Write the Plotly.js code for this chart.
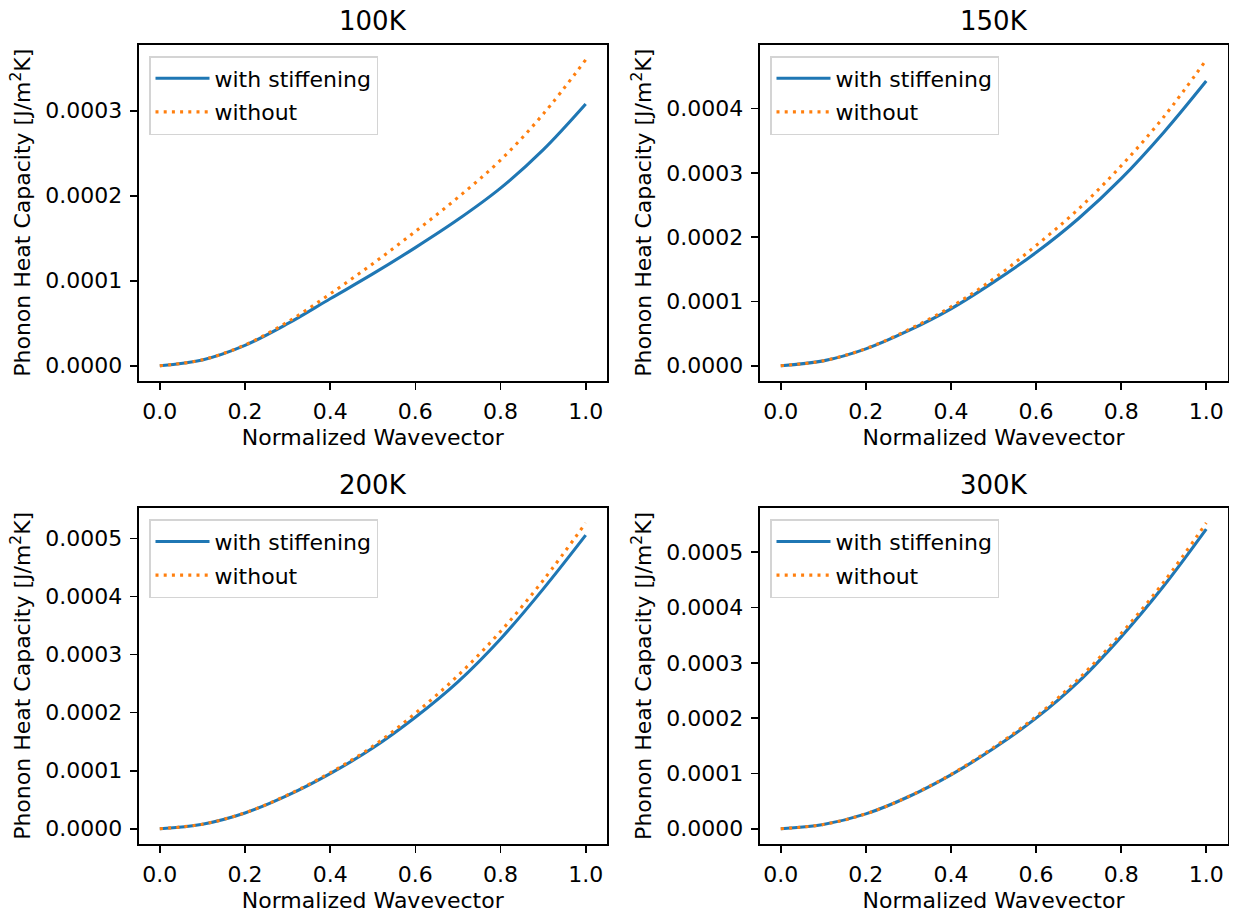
<!DOCTYPE html>
<html>
<head>
<meta charset="utf-8">
<script src="https://cdn.plot.ly/plotly-3.0.1.min.js"></script>
<style>
  html, body { margin: 0; padding: 0; background: #fff; }
  #chart { width: 1235px; height: 916px; }
</style>
</head>
<body>
<div id="chart"></div>
<script>
// ---- data ----
const wavevector = [0, 0.1, 0.2, 0.3, 0.4, 0.5, 0.6, 0.7, 0.8, 0.9, 1.0];
const panelTitles = ["100K", "150K", "200K", "300K"];
const seriesNames = ["with stiffening", "without"];

const stiff100   = [0, 0.0000068, 0.0000239, 0.0000494, 0.0000788, 0.000108, 0.000139, 0.000172, 0.000209, 0.000254, 0.000308];
const without100 = [0, 0.0000069, 0.0000245, 0.0000515, 0.0000845, 0.000120, 0.000158, 0.000198, 0.000242, 0.000296, 0.000360];

const stiff150   = [0, 0.0000075, 0.0000262, 0.0000545, 0.0000885, 0.000130, 0.000176, 0.000229, 0.000291, 0.000363, 0.000443];
const without150 = [0, 0.0000076, 0.0000266, 0.0000560, 0.0000915, 0.000135, 0.000187, 0.000244, 0.000311, 0.000387, 0.000476];

const stiff200   = [0, 0.0000078, 0.0000272, 0.0000575, 0.0000950, 0.000139, 0.000192, 0.000253, 0.000327, 0.000413, 0.000506];
const without200 = [0, 0.0000078, 0.0000274, 0.0000582, 0.0000965, 0.000142, 0.000199, 0.000264, 0.000340, 0.000428, 0.000527];

const stiff300   = [0, 0.0000077, 0.0000268, 0.0000578, 0.0000975, 0.000145, 0.000200, 0.000266, 0.000347, 0.000439, 0.000542];
const without300 = [0, 0.0000077, 0.0000269, 0.0000581, 0.0000982, 0.000147, 0.000203, 0.000271, 0.000353, 0.000446, 0.000553];

const xTicks = [0, 0.2, 0.4, 0.6, 0.8, 1.0];

// ---- styling / layout ----
const W = 1235, H = 916;
const FONT = "DejaVu Sans";
const FS = 22;
const BLUE = "#1f77b4", ORANGE = "#ff7f0e";
const colDomains = [[138.5 / W, 607 / W], [759.5 / W, 1227.5 / W]];
const rowDomains = [[1 - 381 / H, 1 - 44.5 / H], [1 - 844 / H, 1 - 507.7 / H]];

const panels = [
  { stiff: stiff100, without: without100 },
  { stiff: stiff150, without: without150 },
  { stiff: stiff200, without: without200 },
  { stiff: stiff300, without: without300 }
];

const traces = [];
const layout = {
  width: W, height: H,
  margin: { l: 0, r: 0, t: 0, b: 0 },
  paper_bgcolor: "#fff", plot_bgcolor: "#fff",
  font: { family: FONT, size: FS, color: "#000" },
  showlegend: true,
  annotations: []
};

panels.forEach((p, i) => {
  const n = i + 1;
  const sfx = n === 1 ? "" : String(n);
  const xa = "x" + sfx, ya = "y" + sfx;
  const legendId = "legend" + sfx;
  const col = i % 2, row = Math.floor(i / 2);

  traces.push({
    x: wavevector, y: p.stiff, type: "scatter", mode: "lines",
    name: seriesNames[0], xaxis: xa, yaxis: ya, legend: legendId,
    legendgroup: "s" + n,
    line: { color: BLUE, width: 3.1, shape: "spline", smoothing: 1 }
  });
  traces.push({
    x: wavevector, y: p.without, type: "scatter", mode: "lines",
    name: seriesNames[1], xaxis: xa, yaxis: ya, legend: legendId,
    legendgroup: "w" + n,
    line: { color: ORANGE, width: 3.1, dash: "3px,5.2px", shape: "spline", smoothing: 1 }
  });

  const allY = p.stiff.concat(p.without);
  const yMax = Math.max(...allY), yMin = Math.min(...allY);
  const span = yMax - yMin;

  const axCommon = {
    showline: true, mirror: true, linecolor: "#000", linewidth: 1.6,
    ticks: "outside", ticklen: 7.3, tickwidth: 1.6, tickcolor: "#000",
    showgrid: false, zeroline: false,
    tickfont: { family: FONT, size: FS, color: "#000" },
    fixedrange: true
  };

  layout["xaxis" + sfx] = Object.assign({}, axCommon, {
    domain: colDomains[col], anchor: ya,
    range: [-0.05, 1.05],
    tickmode: "array", tickvals: xTicks, ticktext: xTicks.map(v => v.toFixed(1)),
    ticklabelstandoff: 3,
    title: { text: "Normalized Wavevector", font: { family: FONT, size: FS, color: "#000" }, standoff: 6 }
  });
  layout["yaxis" + sfx] = Object.assign({}, axCommon, {
    domain: rowDomains[row], anchor: xa,
    range: [yMin - 0.05 * span, yMax + 0.05 * span],
    dtick: 0.0001, tick0: 0, tickformat: ".4f",
    ticklabelstandoff: 3,
    title: { text: "Phonon Heat Capacity [J/m<sup>2</sup>K]", font: { family: FONT, size: FS, color: "#000" }, standoff: 8 }
  });

  layout[legendId] = {
    x: (colDomains[col][0] * W + 10.5) / W,
    y: (rowDomains[row][1] * H - 11.5) / H,
    xanchor: "left", yanchor: "top",
    xref: "paper", yref: "paper",
    bgcolor: "rgba(255,255,255,0.8)",
    bordercolor: "#d4d4d4", borderwidth: 1.5,
    font: { family: FONT, size: FS, color: "#000" },
    itemwidth: 54,
    tracegroupgap: 2,
    traceorder: "grouped"
  };

  layout.annotations.push({
    text: panelTitles[i],
    xref: "paper", yref: "paper",
    x: (colDomains[col][0] + colDomains[col][1]) / 2,
    y: rowDomains[row][1],
    xanchor: "center", yanchor: "bottom",
    yshift: 6,
    showarrow: false,
    font: { family: FONT, size: 26, color: "#000" }
  });
});

Plotly.newPlot("chart", traces, layout, { staticPlot: true, displayModeBar: false });
</script>
</body>
</html>
